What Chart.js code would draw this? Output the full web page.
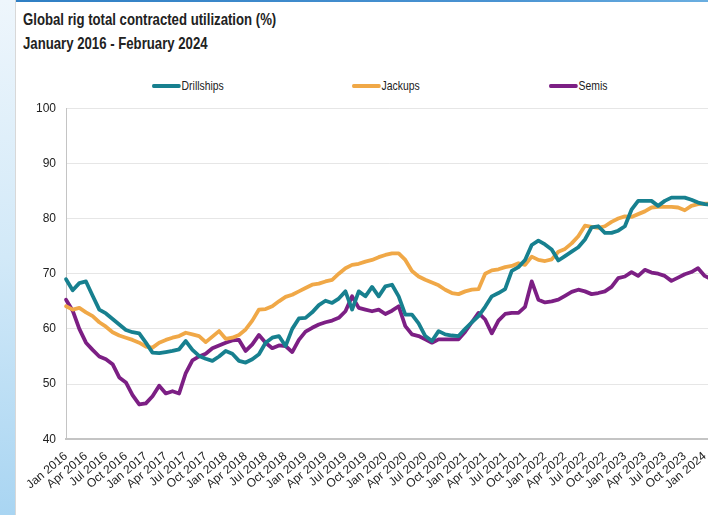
<!DOCTYPE html>
<html lang="en">
<head>
  <meta charset="UTF-8" />
  <title>Global rig total contracted utilization</title>
  <script src="https://cdn.jsdelivr.net/npm/chart.js"></script>
  <style>
    body {
      margin: 0;
      width: 708px;
      height: 515px;
      overflow: hidden;
      position: relative;
      background: #fff;
      font-family: "Liberation Sans", Arial, sans-serif;
      color: #222;
    }
    /* blue strip on the left and the bar on top */
    .side {
      position: absolute;
      left: 0; top: 0;
      width: 15px; height: 515px;
      background: linear-gradient(#eef6fc, #d2e9f8 50%, #a9d5f2);
      border-right: 1px solid #d8d8d8;
    }
    .topbar {
      position: absolute;
      left: 16px; top: 0;
      width: 692px; height: 2px;
      background: linear-gradient(90deg, #2f7fc4, #4a93d2 70%, #6aaee0);
    }
    /* narrow look: the page has no condensed face, so squeeze the text */
    .title {
      position: absolute;
      left: 23px; top: 8px;
      font-weight: bold;
      font-size: 17px;
      line-height: 24px;
      white-space: nowrap;
      transform: scaleX(0.775);
      transform-origin: left top;
    }
    .legend {
      position: absolute;
      top: 78px; left: 0;
      width: 708px; height: 18px;
      font-size: 13px;
    }
    .legend span {
      position: absolute;
      display: flex;
      align-items: center;
      white-space: nowrap;
      transform: scaleX(0.8);
      transform-origin: left center;
    }
    .legend i {
      display: inline-block;
      width: 36px; height: 4px;
      border-radius: 2px;
      margin-right: 1px;
    }
    .chart-box {
      position: absolute;
      left: 16px; top: 91px;
      width: 700px; height: 403px;
    }
  </style>
</head>
<body>
  <div class="side"></div>
  <div class="topbar"></div>
  <div class="title">Global rig total contracted utilization (%)<br>January 2016 - February 2024</div>
  <div class="legend" id="legend"></div>
  <div class="chart-box"><canvas id="rigChart"></canvas></div>

  <script>
    // month labels, Jan 2016 .. Feb 2024
    const monthNames = ['Jan', 'Feb', 'Mar', 'Apr', 'May', 'Jun', 'Jul', 'Aug', 'Sep', 'Oct', 'Nov', 'Dec'];
    const months = [];
    for (let y = 2016; y <= 2024; y++) {
      for (let m = 0; m < 12; m++) {
        if (y === 2024 && m > 1) break;
        months.push(monthNames[m] + ' ' + y);
      }
    }

    const yTicks = [40, 50, 60, 70, 80, 90, 100];

    const seriesNames = ['Drillships', 'Jackups', 'Semis'];
    const seriesColors = ['#17808f', '#f0a847', '#7c1f84'];
    const legendLeft = [152, 352, 549];

    const drillships = [
      69, 67, 68.3, 68.6, 66, 63.5, 62.8, 61.8, 60.8, 59.8, 59.4, 59.2,
      57.5, 55.7, 55.6, 55.8, 56, 56.3, 57.8, 56.2, 55.1, 54.6, 54.2, 55,
      56, 55.5, 54.2, 53.9, 54.5, 55.4, 57.5, 58.4, 58.7, 56.9, 60, 61.9,
      62, 63, 64.3, 65.1, 64.7, 65.5, 66.8, 63.5, 66.8, 65.9, 67.6, 65.9,
      67.7, 68, 65.9, 62.6, 62.6, 61, 58.7, 57.8, 59.6, 59, 58.8, 58.7,
      60, 61.2, 62.3, 64, 65.9, 66.5, 67.2, 70.5, 71.2, 72.5, 75.2, 76,
      75.3, 74.4, 72.4, 73.2, 74, 74.8, 76.2, 78.4, 78.6, 77.4, 77.4, 77.8,
      78.6, 81.6, 83.2, 83.2, 83.2, 82.3, 83.2, 83.8, 83.8, 83.8, 83.4, 82.9,
      82.6, 82.5
    ];
    const jackups = [
      64.1, 63.5, 63.8, 63, 62.3, 61.2, 60.4, 59.4, 58.8, 58.4, 58, 57.5,
      56.8, 56.6, 57.5, 58, 58.4, 58.7, 59.3, 59, 58.7, 57.6, 58.6, 59.6,
      58.2, 58.4, 58.9, 59.9, 61.5, 63.5, 63.6, 64.1, 65, 65.8, 66.2, 66.8,
      67.4, 68, 68.2, 68.6, 68.9, 70, 71, 71.6, 71.8, 72.2, 72.5, 73,
      73.4, 73.7, 73.7, 72.5, 70.5, 69.5, 68.9, 68.4, 67.9, 67.1, 66.5, 66.3,
      66.8, 67.1, 67.2, 70, 70.6, 70.8, 71.2, 71.4, 71.9, 71.6, 73.1, 72.5,
      72.3, 72.6, 74, 74.5, 75.5, 76.8, 78.7, 78.5, 78.3, 78.6, 79.4, 80,
      80.4, 80.3, 80.8, 81.3, 82, 82.1, 82.1, 82.1, 82, 81.5, 82.3, 82.6,
      82.7, 82.7
    ];
    const semis = [
      65.3, 63.3, 60, 57.5, 56.2, 55, 54.5, 53.6, 51.2, 50.3, 48, 46.3,
      46.5, 47.8, 49.7, 48.3, 48.7, 48.3, 52, 54.3, 55, 55.5, 56.5, 57,
      57.5, 57.9, 58, 56, 57.2, 58.9, 57.5, 56.5, 57, 56.9, 55.8, 58,
      59.5, 60.2, 60.8, 61.2, 61.5, 62, 63.2, 65.9, 63.8, 63.5, 63.2, 63.5,
      62.7, 63.3, 64.1, 60.5, 59, 58.7, 58.1, 57.5, 58.1, 58.1, 58.1, 58.1,
      59.5, 61.2, 62.9, 61.7, 59.2, 61.5, 62.7, 62.9, 62.9, 64, 68.6, 65.3,
      64.8, 65, 65.3, 66, 66.7, 67.1, 66.8, 66.3, 66.5, 66.8, 67.6, 69.2,
      69.5, 70.3, 69.6, 70.7, 70.2, 70, 69.6, 68.7, 69.3, 69.9, 70.3, 71,
      69.6, 69
    ];
    const seriesData = [drillships, jackups, semis];

    // html legend built from the series lists
    const legendEl = document.getElementById('legend');
    seriesNames.forEach((name, i) => {
      const item = document.createElement('span');
      item.style.left = legendLeft[i] + 'px';
      item.innerHTML = '<i style="background:' + seriesColors[i] + '"></i>' + name;
      legendEl.appendChild(item);
    });

    Chart.defaults.font.family = '"Liberation Sans", Arial, sans-serif';
    Chart.defaults.font.size = 12;
    Chart.defaults.color = '#222';

    const ctx = document.getElementById('rigChart').getContext('2d');
    new Chart(ctx, {
      type: 'line',
      data: {
        labels: months,
        datasets: seriesNames.map((name, i) => ({
          label: name,
          data: seriesData[i],
          borderColor: seriesColors[i],
          backgroundColor: seriesColors[i],
          borderWidth: 3.8,
          pointRadius: 0,
          tension: 0,
          borderJoinStyle: 'round',
          borderCapStyle: 'round'
        }))
      },
      options: {
        responsive: true,
        maintainAspectRatio: false,
        animation: false,
        layout: { padding: { left: 10, right: 4, top: 0, bottom: 0 } },
        plugins: {
          legend: { display: false },
          tooltip: { enabled: false }
        },
        scales: {
          x: {
            grid: { display: false },
            border: { display: true, color: '#c4c4c4', width: 2 },
            ticks: {
              autoSkip: false,
              minRotation: 40,
              maxRotation: 40,
              padding: 2,
              callback: function (value, index) {
                return index % 3 === 0 ? this.getLabelForValue(value) : null;
              }
            }
          },
          y: {
            min: yTicks[0],
            max: yTicks[yTicks.length - 1],
            afterBuildTicks: axis => { axis.ticks = yTicks.map(v => ({ value: v })); },
            grid: { color: '#e6e6e6', drawTicks: false },
            border: { display: true, color: '#c4c4c4', width: 1 },
            ticks: { padding: 10 }
          }
        }
      }
    });
  </script>
</body>
</html>
